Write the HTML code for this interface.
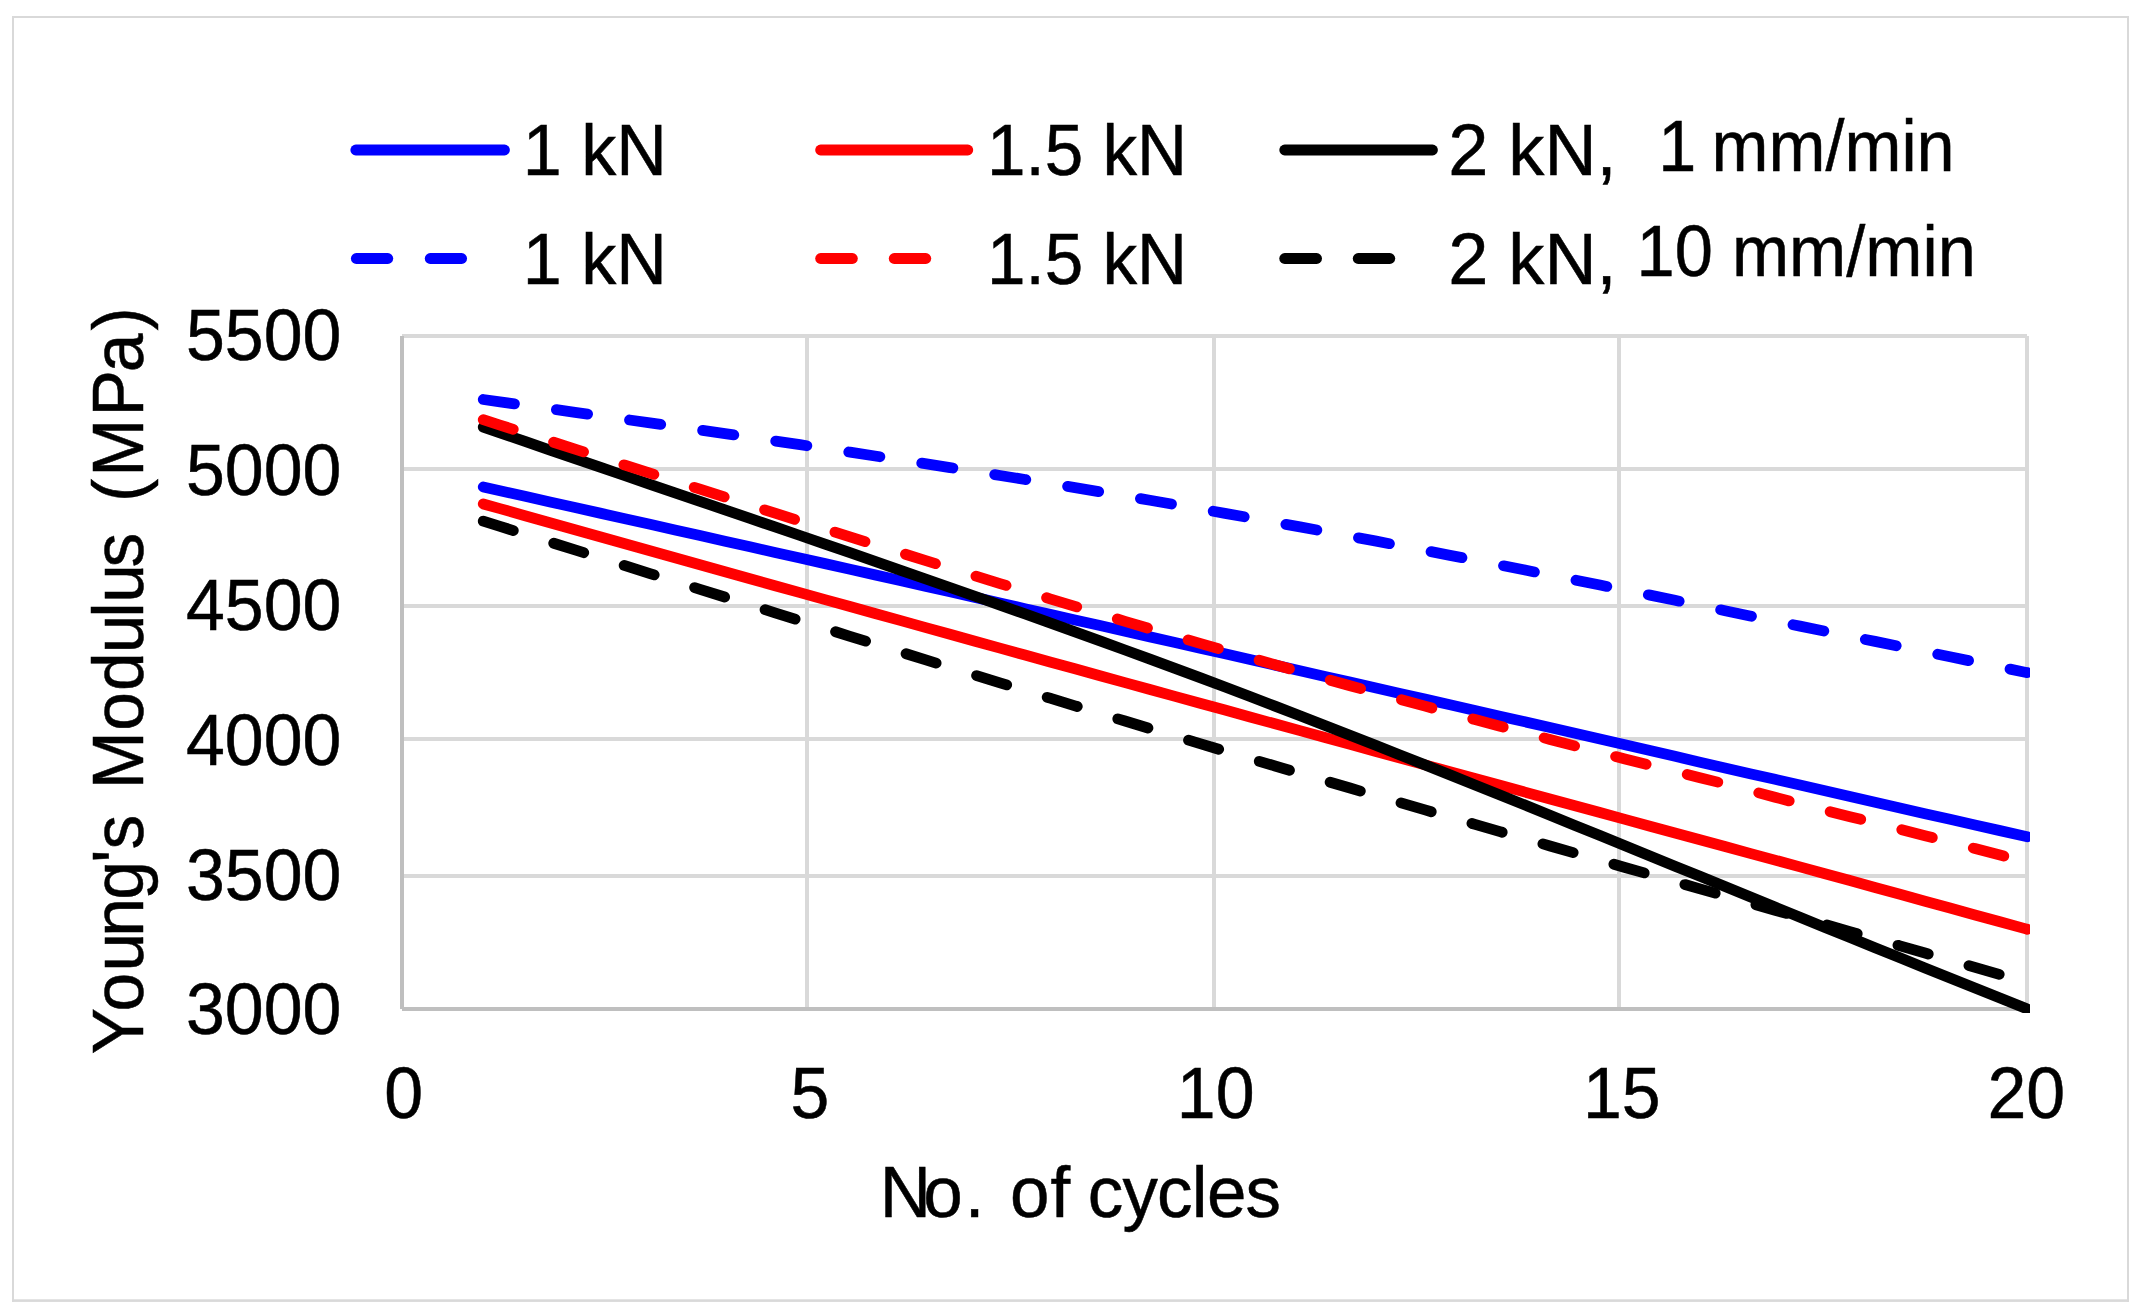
<!DOCTYPE html>
<html><head><meta charset="utf-8"><title>Young's Modulus vs No. of cycles</title>
<style>html,body{margin:0;padding:0;background:#fff}svg{display:block}</style></head>
<body><svg width="2145" height="1314" viewBox="0 0 2145 1314" role="img">
<rect width="2145" height="1314" fill="#fff"/>
<g fill="#D9D9D9">
<rect x="12" y="16" width="2117" height="2"/>
<rect x="12" y="16" width="2" height="1286"/>
<rect x="2127" y="16" width="2" height="1286"/>
<rect x="12" y="1299.3" width="2117" height="2.6"/>
</g>
<g shape-rendering="crispEdges">
<rect x="402" y="334" width="1625" height="4" fill="#D9D9D9"/>
<rect x="402" y="467" width="1625" height="4" fill="#D9D9D9"/>
<rect x="402" y="604" width="1625" height="4" fill="#D9D9D9"/>
<rect x="402" y="737" width="1625" height="4" fill="#D9D9D9"/>
<rect x="402" y="874" width="1625" height="4" fill="#D9D9D9"/>
<rect x="805" y="336" width="4" height="673" fill="#D9D9D9"/>
<rect x="1212" y="336" width="4" height="673" fill="#D9D9D9"/>
<rect x="1617" y="336" width="4" height="673" fill="#D9D9D9"/>
<rect x="2025" y="336" width="4" height="673" fill="#D9D9D9"/>
<rect x="400" y="336" width="4" height="673" fill="#BFBFBF"/>
<rect x="402" y="1007" width="1625" height="4" fill="#BFBFBF"/>
</g>
<clipPath id="pc"><rect x="396" y="330" width="1634" height="683"/></clipPath>
<g clip-path="url(#pc)" fill="none" stroke-width="10.8" stroke-linecap="round" stroke-linejoin="round">
<polyline points="483.25,486.94 500.00,490.69 525.00,496.30 550.00,501.90 575.00,507.51 600.00,513.11 625.00,518.72 650.00,524.33 675.00,529.94 700.00,535.55 725.00,541.17 750.00,546.78 775.00,552.40 800.00,558.02 825.00,563.64 850.00,569.26 875.00,574.88 900.00,580.50 925.00,586.13 950.00,591.76 975.00,597.39 1000.00,603.02 1025.00,608.65 1050.00,614.29 1075.00,619.93 1100.00,625.57 1125.00,631.21 1150.00,636.86 1175.00,642.50 1200.00,648.15 1225.00,653.80 1250.00,659.46 1275.00,665.12 1300.00,670.77 1325.00,676.44 1350.00,682.10 1375.00,687.77 1400.00,693.44 1425.00,699.11 1450.00,704.79 1475.00,710.47 1500.00,716.15 1525.00,721.83 1550.00,727.52 1575.00,733.21 1600.00,738.91 1625.00,744.71 1650.00,750.52 1675.00,756.32 1700.00,762.14 1725.00,767.93 1750.00,773.65 1775.00,779.36 1800.00,785.09 1825.00,790.81 1850.00,796.54 1875.00,802.28 1900.00,808.01 1925.00,813.66 1950.00,819.30 1975.00,824.95 2000.00,830.61 2025.00,836.27 2027.25,836.78" stroke="#0000FF"/>
<polyline points="483.25,503.95 500.00,508.67 525.00,515.70 550.00,522.73 575.00,529.76 600.00,536.77 625.00,543.78 650.00,550.78 675.00,557.77 700.00,564.76 725.00,571.74 750.00,578.72 775.00,585.68 800.00,592.64 825.00,599.60 850.00,606.55 875.00,613.49 900.00,620.42 925.00,627.35 950.00,634.28 975.00,641.20 1000.00,648.11 1025.00,655.02 1050.00,661.92 1075.00,668.81 1100.00,675.71 1125.00,682.59 1150.00,689.47 1175.00,696.35 1200.00,703.22 1225.00,710.08 1250.00,716.95 1275.00,723.80 1300.00,730.65 1325.00,737.50 1350.00,744.35 1375.00,751.19 1400.00,758.02 1425.00,764.85 1450.00,771.68 1475.00,778.50 1500.00,785.32 1525.00,792.14 1550.00,798.95 1575.00,805.76 1600.00,812.57 1625.00,819.37 1650.00,826.17 1675.00,832.97 1700.00,839.76 1725.00,846.55 1750.00,853.34 1775.00,860.13 1800.00,866.91 1825.00,873.70 1850.00,880.57 1875.00,887.45 1900.00,894.32 1925.00,901.19 1950.00,908.06 1975.00,914.92 2000.00,921.79 2025.00,928.65 2027.25,929.27" stroke="#FF0000"/>
<polyline points="483.25,427.05 500.00,432.84 525.00,441.47 550.00,450.07 575.00,458.65 600.00,467.20 625.00,475.74 650.00,484.27 675.00,492.80 700.00,501.32 725.00,509.85 750.00,518.39 775.00,526.94 800.00,535.51 825.00,544.10 850.00,552.72 875.00,561.36 900.00,570.04 925.00,578.75 950.00,587.49 975.00,596.27 1000.00,605.10 1025.00,613.96 1050.00,622.88 1075.00,631.85 1100.00,640.87 1125.00,649.96 1150.00,659.12 1175.00,668.35 1200.00,677.66 1225.00,687.05 1250.00,696.53 1275.00,706.10 1300.00,715.73 1325.00,725.44 1350.00,735.21 1375.00,745.05 1400.00,754.94 1425.00,764.89 1450.00,774.88 1475.00,784.91 1500.00,794.98 1525.00,805.09 1550.00,815.22 1575.00,825.38 1600.00,835.56 1625.00,845.75 1650.00,855.95 1675.00,866.16 1700.00,876.37 1725.00,886.59 1750.00,896.80 1775.00,907.00 1800.00,917.20 1825.00,927.38 1850.00,937.56 1875.00,947.71 1900.00,957.84 1925.00,967.95 1950.00,978.03 1975.00,988.08 2000.00,998.10 2025.00,1008.08 2027.25,1008.98" stroke="#000000"/>
<polyline points="483.25,399.50 500.00,401.83 525.00,405.30 550.00,408.79 575.00,412.29 600.00,415.81 625.00,419.34 650.00,422.90 675.00,426.47 700.00,430.06 725.00,433.68 750.00,437.33 775.00,441.00 800.00,444.70 825.00,448.42 850.00,452.18 875.00,455.98 900.00,459.80 925.00,463.66 950.00,467.56 975.00,471.50 1000.00,475.48 1025.00,479.50 1050.00,483.56 1075.00,487.67 1100.00,491.83 1125.00,496.03 1150.00,500.29 1175.00,504.59 1200.00,508.95 1225.00,513.36 1250.00,517.83 1275.00,522.35 1300.00,526.92 1325.00,531.54 1350.00,536.22 1375.00,540.93 1400.00,545.69 1425.00,550.49 1450.00,555.33 1475.00,560.20 1500.00,565.11 1525.00,570.05 1550.00,575.02 1575.00,580.02 1600.00,585.04 1625.00,590.09 1650.00,595.15 1675.00,600.33 1700.00,605.52 1725.00,610.73 1750.00,615.95 1775.00,621.08 1800.00,626.16 1825.00,631.24 1850.00,636.32 1875.00,641.41 1900.00,646.49 1925.00,651.64 1950.00,656.79 1975.00,661.92 2000.00,667.05 2025.00,672.17 2027.25,672.63" stroke="#0000FF" stroke-dasharray="31.5 42.35"/>
<polyline points="483.25,419.70 500.00,425.06 525.00,433.08 550.00,441.10 575.00,449.12 600.00,457.15 625.00,465.17 650.00,473.19 675.00,481.20 700.00,489.20 725.00,497.19 750.00,505.17 775.00,513.13 800.00,521.07 825.00,528.99 850.00,536.88 875.00,544.74 900.00,552.58 925.00,560.38 950.00,568.15 975.00,575.88 1000.00,583.57 1025.00,591.21 1050.00,598.81 1075.00,606.37 1100.00,613.87 1125.00,621.32 1150.00,628.71 1175.00,636.05 1200.00,643.32 1225.00,650.53 1250.00,657.68 1275.00,664.76 1300.00,671.79 1325.00,678.76 1350.00,685.68 1375.00,692.55 1400.00,699.37 1425.00,706.14 1450.00,712.88 1475.00,719.57 1500.00,726.23 1525.00,732.85 1550.00,739.44 1575.00,746.00 1600.00,752.53 1625.00,758.98 1650.00,765.22 1675.00,771.45 1700.00,777.65 1725.00,783.93 1750.00,790.56 1775.00,797.18 1800.00,803.79 1825.00,810.37 1850.00,816.66 1875.00,822.94 1900.00,829.24 1925.00,835.67 1950.00,842.11 1975.00,848.57 2000.00,855.04 2025.00,861.53 2027.25,862.11" stroke="#FF0000" stroke-dasharray="31.5 42.35"/>
<polyline points="483.25,521.13 500.00,526.39 525.00,534.25 550.00,542.11 575.00,549.97 600.00,557.83 625.00,565.70 650.00,573.56 675.00,581.42 700.00,589.28 725.00,597.13 750.00,604.98 775.00,612.82 800.00,620.65 825.00,628.47 850.00,636.28 875.00,644.07 900.00,651.85 925.00,659.62 950.00,667.37 975.00,675.10 1000.00,682.81 1025.00,690.50 1050.00,698.17 1075.00,705.81 1100.00,713.43 1125.00,721.02 1150.00,728.59 1175.00,736.13 1200.00,743.63 1225.00,751.11 1250.00,758.55 1275.00,765.97 1300.00,773.35 1325.00,780.71 1350.00,788.05 1375.00,795.36 1400.00,802.64 1425.00,809.91 1450.00,817.15 1475.00,824.38 1500.00,831.59 1525.00,838.79 1550.00,845.97 1575.00,853.14 1600.00,860.30 1625.00,867.44 1650.00,874.59 1675.00,881.72 1700.00,888.85 1725.00,895.98 1750.00,903.10 1775.00,910.23 1800.00,917.35 1825.00,924.48 1850.00,931.61 1875.00,938.75 1900.00,945.89 1925.00,953.05 1950.00,960.21 1975.00,967.38 2000.00,974.57 2025.00,981.77 2027.25,982.42" stroke="#000000" stroke-dasharray="31.5 42.35"/>
</g>
<g fill="none" stroke-width="10.8" stroke-linecap="round">
<line x1="355.80" y1="150.0" x2="504.50" y2="150.0" stroke="#0000FF"/>
<line x1="820.60" y1="150.0" x2="967.80" y2="150.0" stroke="#FF0000"/>
<line x1="1284.70" y1="150.0" x2="1432.50" y2="150.0" stroke="#000000"/>
<line x1="356.30" y1="258.5" x2="387.80" y2="258.5" stroke="#0000FF"/>
<line x1="430.20" y1="258.5" x2="461.65" y2="258.5" stroke="#0000FF"/>
<line x1="820.60" y1="258.5" x2="852.40" y2="258.5" stroke="#FF0000"/>
<line x1="894.20" y1="258.5" x2="925.80" y2="258.5" stroke="#FF0000"/>
<line x1="1284.70" y1="258.5" x2="1316.60" y2="258.5" stroke="#000000"/>
<line x1="1358.20" y1="258.5" x2="1389.80" y2="258.5" stroke="#000000"/>
</g>
<g font-family='"Liberation Sans", Arial, sans-serif' fill="#000" stroke="#000" stroke-width="0.5" style="font-kerning:none">
<text transform="translate(0,175.10) scale(0.9730,1)" font-size="72" x="537.36 577.40 597.41 633.41">1 kN</text>
<text transform="translate(0,175.10) scale(0.9617,1)" font-size="72" x="1026.23 1066.27 1086.27 1126.32 1146.32 1182.32">1.5 kN</text>
<text transform="translate(0,175.10) scale(1.0028,1)" font-size="72" x="1444.12 1484.16 1504.17 1540.17 1592.16">2 kN,</text>
<text transform="translate(0,283.90) scale(0.9730,1)" font-size="72" x="537.36 577.40 597.41 633.41">1 kN</text>
<text transform="translate(0,283.90) scale(0.9617,1)" font-size="72" x="1026.23 1066.27 1086.27 1126.32 1146.32 1182.32">1.5 kN</text>
<text transform="translate(0,283.90) scale(1.0028,1)" font-size="72" x="1444.12 1484.16 1504.17 1540.17 1592.16">2 kN,</text>
<text transform="translate(0,171.20) scale(0.9492,1)" font-size="72" x="1746.99 1787.03 1803.21 1863.19 1923.16 1943.17 2003.14 2019.14">1 mm/min</text>
<text transform="translate(0,276.20) scale(0.9526,1)" font-size="72" x="1718.04 1758.09 1798.13 1818.13 1878.11 1938.09 1958.09 2018.07 2034.06">10 mm/min</text>
<text transform="translate(0,359.70) scale(0.9630,1)" font-size="72.5" x="193.14 233.46 273.79 314.11">5500</text>
<text transform="translate(0,494.65) scale(0.9630,1)" font-size="72.5" x="193.14 233.46 273.79 314.11">5000</text>
<text transform="translate(0,629.60) scale(0.9630,1)" font-size="72.5" x="193.14 233.46 273.79 314.11">4500</text>
<text transform="translate(0,764.55) scale(0.9630,1)" font-size="72.5" x="193.14 233.46 273.79 314.11">4000</text>
<text transform="translate(0,899.50) scale(0.9630,1)" font-size="72.5" x="193.14 233.46 273.79 314.11">3500</text>
<text transform="translate(0,1034.45) scale(0.9630,1)" font-size="72.5" x="193.14 233.46 273.79 314.11">3000</text>
<text transform="translate(0,1118.20) scale(0.9630,1)" font-size="72.5" x="398.93">0</text>
<text transform="translate(0,1118.20) scale(0.9630,1)" font-size="72.5" x="820.79">5</text>
<text transform="translate(0,1118.20) scale(0.9630,1)" font-size="72.5" x="1222.04 1262.36">10</text>
<text transform="translate(0,1118.20) scale(0.9630,1)" font-size="72.5" x="1643.78 1684.10">15</text>
<text transform="translate(0,1118.20) scale(0.9630,1)" font-size="72.5" x="2063.81 2104.13">20</text>
<text transform="translate(0,1217.00) scale(0.9850,1)" font-size="72" x="893.18 937.28 979.42 999.42 1025.50 1066.59 1086.60 1104.35 1139.51 1174.68 1209.84 1225.46 1264.57">No. of cycles</text>
<text transform="translate(143.10,0) rotate(-90) scale(0.9650,1)" font-size="72" x="-1092.57 -1048.31 -1006.85 -970.69 -932.45 -894.12 -880.24 -844.24 -817.93 -757.22 -716.18 -676.90 -640.19 -624.57 -588.12 -552.12 -520.32 -494.09 -431.61 -385.65 -342.60">Young's Modulus (MPa)</text>
</g>
</svg></body></html>
